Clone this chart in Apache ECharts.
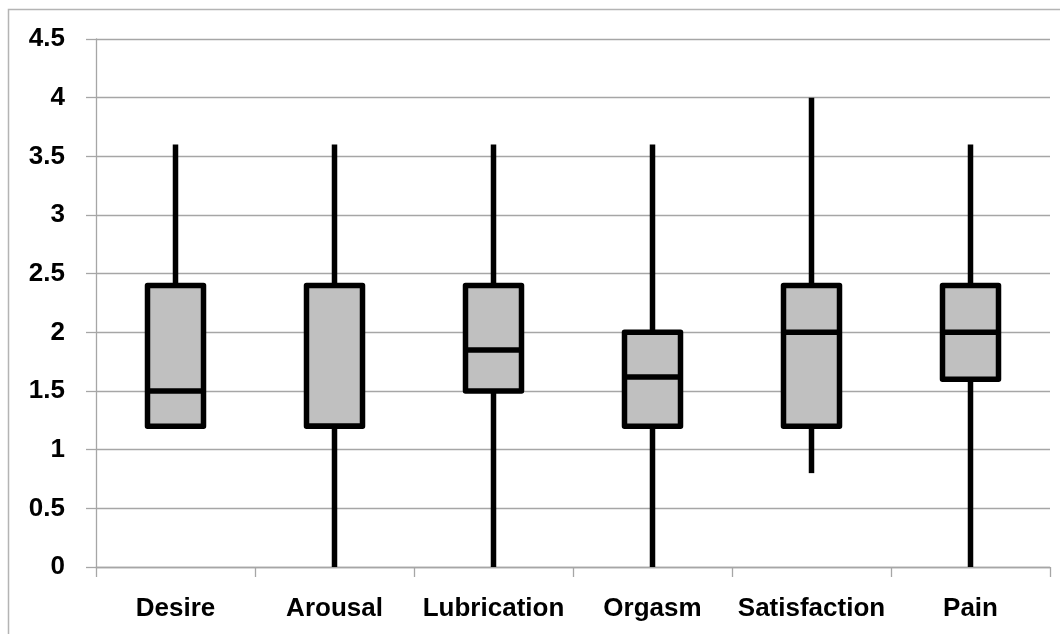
<!DOCTYPE html>
<html>
<head>
<meta charset="utf-8">
<script src="https://cdn.jsdelivr.net/npm/echarts@6/dist/echarts.min.js"></script>
<style>
  html, body { margin: 0; padding: 0; background: #ffffff; }
  #chart { width: 1060px; height: 634px; }
</style>
</head>
<body>
<div id="chart"></div>
<script>
// Domains of sexual function scores: five-number summaries per domain
const categories = ['Desire', 'Arousal', 'Lubrication', 'Orgasm', 'Satisfaction', 'Pain'];
const minValues    = [1.2, 0,   0,    0,    0.8, 0];
const q1Values     = [1.2, 1.2, 1.5,  1.2,  1.2, 1.6];
const medianValues = [1.5, 1.2, 1.85, 1.62, 2.0, 2.0];
const q3Values     = [2.4, 2.4, 2.4,  2.0,  2.4, 2.4];
const maxValues    = [3.6, 3.6, 3.6,  3.6,  4.0, 3.6];
const yTicks = { min: 0, max: 4.5, step: 0.5 };

const seriesData = categories.map((c, i) =>
  [i, minValues[i], q1Values[i], medianValues[i], q3Values[i], maxValues[i]]);

const FONT = '"Liberation Sans", Arial, sans-serif';
const STROKE = '#000000';
const LINE_W = 5.5;
const BOX_W = 56;

function renderBox(params, api) {
  const i = api.value(0);
  const pMin = api.coord([i, api.value(1)]);
  const pQ1 = api.coord([i, api.value(2)]);
  const pMed = api.coord([i, api.value(3)]);
  const pQ3 = api.coord([i, api.value(4)]);
  const pMax = api.coord([i, api.value(5)]);
  const cx = pQ1[0];
  const half = BOX_W / 2;
  const lineStyle = { stroke: STROKE, lineWidth: LINE_W, lineCap: 'butt' };
  const children = [];
  if (pMax[1] < pQ3[1]) {
    children.push({ type: 'line', shape: { x1: cx, y1: pQ3[1], x2: cx, y2: pMax[1] }, style: lineStyle });
  }
  if (pMin[1] > pQ1[1]) {
    children.push({ type: 'line', shape: { x1: cx, y1: pQ1[1], x2: cx, y2: pMin[1] }, style: lineStyle });
  }
  children.push({
    type: 'rect',
    shape: { x: cx - half, y: pQ3[1], width: BOX_W, height: pQ1[1] - pQ3[1] },
    style: { fill: '#c0c0c0', stroke: STROKE, lineWidth: LINE_W, lineJoin: 'round' }
  });
  children.push({
    type: 'line',
    shape: { x1: cx - half, y1: pMed[1], x2: cx + half, y2: pMed[1] },
    style: { stroke: STROKE, lineWidth: LINE_W }
  });
  return { type: 'group', children: children };
}

const chart = echarts.init(document.getElementById('chart'), null, { renderer: 'canvas' });
chart.setOption({
  animation: false,
  backgroundColor: '#ffffff',
  graphic: [{
    type: 'rect',
    shape: { x: 8.5, y: 9.5, width: 1200, height: 800 },
    style: { fill: 'none', stroke: '#b4b4b4', lineWidth: 1.5 },
    silent: true
  }],
  grid: { left: 96, right: 10, top: 39, bottom: 67, containLabel: false },
  xAxis: {
    type: 'category',
    data: categories,
    boundaryGap: true,
    axisLine: { show: true, lineStyle: { color: '#a6a6a6', width: 1.3 } },
    axisTick: { show: true, interval: 0, alignWithLabel: false, length: 10, lineStyle: { color: '#a6a6a6', width: 1.3 } },
    axisLabel: { interval: 0, color: '#000000', fontFamily: FONT, fontWeight: 'bold', fontSize: 26, margin: 29 },
    splitLine: { show: false }
  },
  yAxis: {
    type: 'value',
    min: yTicks.min,
    max: yTicks.max,
    interval: yTicks.step,
    axisLine: { show: true, lineStyle: { color: '#a6a6a6', width: 1.3 } },
    axisTick: { show: true, length: 10, lineStyle: { color: '#a6a6a6', width: 1.3 } },
    axisLabel: { color: '#000000', fontFamily: FONT, fontWeight: 'bold', fontSize: 26, margin: 31 },
    splitLine: { show: true, lineStyle: { color: '#a6a6a6', width: 1.3 } }
  },
  series: [{
    type: 'custom',
    renderItem: renderBox,
    encode: { x: 0, y: [1, 2, 3, 4, 5] },
    data: seriesData,
    z: 10
  }]
});
</script>
</body>
</html>
